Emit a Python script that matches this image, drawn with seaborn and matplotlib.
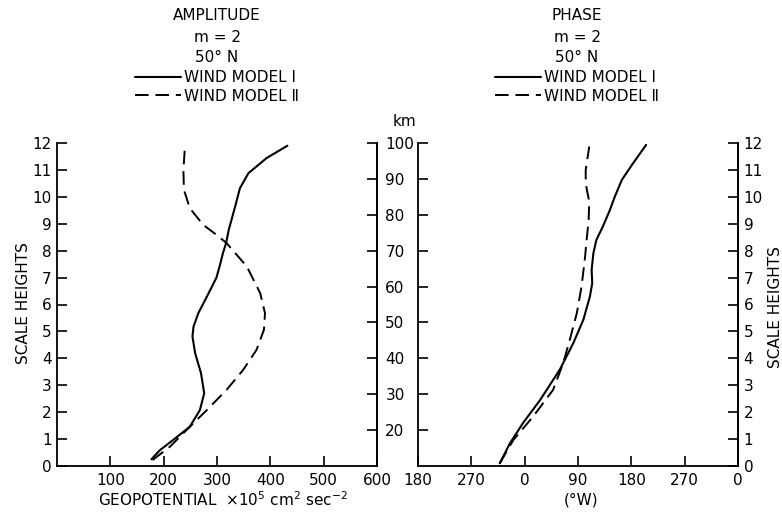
import matplotlib
matplotlib.use("Agg")
import matplotlib.pyplot as plt
import seaborn as sns
import pandas as pd

# amplitude, m = 2, 50 N  (scale heights vs geopotential x 1e5 cm2 sec-2)
amp_h_1 = [0.25, 0.59, 0.97, 1.46, 2.08, 2.70, 3.45, 4.19, 4.81, 5.18, 5.68, 6.29, 7.0, 7.5, 7.9,
           8.28, 8.77, 9.64, 10.32, 10.88, 11.44, 11.9]
amp_v_1 = [177, 193, 218, 249, 268, 276, 270, 259, 254, 256, 265, 281, 299, 306, 311,
           317, 322, 334, 343, 359, 393, 432]
amp_h_2 = [0.22, 0.72, 1.34, 2.08, 2.83, 3.57, 4.31, 5.06, 5.68, 6.42, 7.41, 8.28, 8.59, 8.96,
           9.58, 10.26, 11.0, 11.9]
amp_v_2 = [179, 212, 243, 281, 318, 349, 374, 388, 390, 381, 356, 318, 299, 274,
           249, 238, 237, 240]

# phase (deg W, 180..0 shown as -180..360)
ph_h_1 = [0.1, 0.84, 1.59, 2.45, 3.57, 4.56, 5.43, 6.29, 6.79, 7.29, 7.91, 8.4, 8.9, 9.52, 10.0,
          10.63, 11.25, 11.93]
ph_v_1 = [-42, -25, -3, 26, 59, 82, 99, 110, 114, 113, 116, 121, 132, 144, 152,
          164, 183, 205]
ph_h_2 = [0.1, 0.97, 1.83, 2.83, 3.82, 4.68, 5.68, 6.67, 7.78, 8.28, 9.15, 9.83, 10.15, 10.5,
          11.0, 11.87]
ph_v_2 = [-42, -19, 14, 48, 65, 76, 88, 96, 102, 104, 108, 109, 106, 103,
          103, 109]

amp_ticks = [100, 200, 300, 400, 500, 600]
ph_ticks = [-180, -90, 0, 90, 180, 270, 360]
ph_labels = ["180", "270", "0", "90", "180", "270", "0"]
km_ticks = [20, 30, 40, 50, 60, 70, 80, 90, 100]
h_ticks = list(range(0, 13))
labels = ["WIND MODEL Ⅰ", "WIND MODEL Ⅱ"]


def h2km(h):
    return 10 + 7.5 * h


def km2h(km):
    return (km - 10) / 7.5


sns.set_style("ticks")
plt.rcParams['font.family'] = ['DejaVu Sans']
plt.rcParams['font.size'] = 11
plt.rcParams['text.color'] = 'black'
plt.rcParams['axes.edgecolor'] = 'black'
plt.rcParams['axes.linewidth'] = 1.3
plt.rcParams['xtick.color'] = 'black'
plt.rcParams['ytick.color'] = 'black'
plt.rcParams['xtick.labelcolor'] = 'black'
plt.rcParams['ytick.labelcolor'] = 'black'

W, H = 782, 513
fs = 11
fig = plt.figure(figsize=(W / 100, H / 100), dpi=100)
ax1 = fig.add_axes([57 / W, 47 / H, 320 / W, 323 / H])
ax2 = fig.add_axes([418 / W, 47 / H, 320 / W, 323 / H])

dash = (7, 3.5)
amp1 = pd.DataFrame({"h": amp_h_1, "v": amp_v_1})
amp2 = pd.DataFrame({"h": amp_h_2, "v": amp_v_2})
ph1 = pd.DataFrame({"h": ph_h_1, "v": ph_v_1})
ph2 = pd.DataFrame({"h": ph_h_2, "v": ph_v_2})

sns.lineplot(data=amp1, x="v", y="h", sort=False, estimator=None, ax=ax1, color="black", lw=1.5,
             label=labels[0])
sns.lineplot(data=amp2, x="v", y="h", sort=False, estimator=None, ax=ax1, color="black", lw=1.4,
             dashes=False, linestyle=(0, dash), label=labels[1])
sns.lineplot(data=ph1, x="v", y="h", sort=False, estimator=None, ax=ax2, color="black", lw=1.5,
             label=labels[0])
sns.lineplot(data=ph2, x="v", y="h", sort=False, estimator=None, ax=ax2, color="black", lw=1.4,
             dashes=False, linestyle=(0, dash), label=labels[1])

for ax in (ax1, ax2):
    ax.set_ylim(0, 12)
    ax.set_xlabel("")
    ax.set_ylabel("")
    ax.spines['top'].set_visible(False)
    ax.tick_params(direction="in", length=7, width=1.2, labelsize=fs, pad=5)

ax1.set_xlim(0, 600)
ax1.set_xticks(amp_ticks)
ax1.set_yticks(h_ticks)
ax1.tick_params(axis="y", pad=4)

km1 = ax1.secondary_yaxis("right", functions=(h2km, km2h))
km1.set_yticks(km_ticks)
km1.tick_params(direction="in", length=7, width=1.2, labelsize=fs, pad=6)

ax2.set_xlim(-180, 360)
ax2.set_xticks(ph_ticks)
ax2.set_xticklabels(ph_labels)
ax2.set_yticks([km2h(k) for k in km_ticks])
ax2.set_yticklabels([])
hr = ax2.secondary_yaxis("right", functions=(lambda x: x, lambda x: x))
hr.set_yticks(h_ticks)
hr.tick_params(direction="in", length=7, width=1.2, labelsize=fs, pad=4)

for ax, cx, title in ((ax1, 217, "AMPLITUDE"), (ax2, 577, "PHASE")):
    fig.text(cx / W, 1 - 16 / H, title, ha="center", va="center")
    fig.text(cx / W, 1 - 37 / H, "m = 2", ha="center", va="center")
    fig.text(cx / W, 1 - 57 / H, "50° N", ha="center", va="center")
    ax.legend(loc="center", bbox_to_anchor=(cx / W, 1 - 87 / H), bbox_transform=fig.transFigure,
              frameon=False, handlelength=3.0, handletextpad=0.2, labelspacing=0.2, fontsize=fs,
              borderpad=0)

fig.text(405 / W, 1 - 122 / H, "km", ha="center", va="center")
fig.text(24 / W, 1 - 303 / H, "SCALE HEIGHTS", rotation=90, ha="center", va="center")
fig.text(775 / W, 1 - 307 / H, "SCALE HEIGHTS", rotation=90, ha="center", va="center")
fig.text(223 / W, 1 - 500 / H, r"GEOPOTENTIAL  $\times$10$^5$ cm$^2$ sec$^{-2}$", ha="center", va="center")
fig.text(581 / W, 1 - 500 / H, "(°W)", ha="center", va="center")

fig.savefig("out.png", dpi=100)
